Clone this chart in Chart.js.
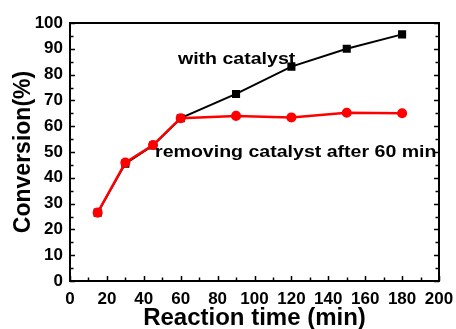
<!DOCTYPE html>
<html>
<head>
<meta charset="utf-8">
<script src="https://cdn.jsdelivr.net/npm/chart.js@4/dist/chart.umd.min.js"></script>
<style>
  html, body { margin: 0; padding: 0; background: #fff; }
  #wrap { width: 456px; height: 329px; }
</style>
</head>
<body>
<div id="wrap"><canvas id="chart" width="456" height="329"></canvas></div>
<script>
// reaction time (min)
const times = [15, 30, 45, 60, 90, 120, 150, 180];
// conversion (%)
const withCatalyst = [26.5, 45.5, 52.5, 63.1, 72.5, 83.1, 90.0, 95.6];
const removedCatalyst = [26.5, 45.9, 52.7, 63.1, 64.0, 63.4, 65.2, 65.0];
const xTicks = [0, 200, 20];
const yTicks = [0, 100, 10];

const FONT = "'Liberation Sans', Arial, sans-serif";

function pts(vals) {
  return times.map((t, i) => ({ x: t, y: vals[i] }));
}

// frame with inward ticks (major + minor)
const framePlugin = {
  id: 'frame',
  beforeDatasetsDraw(chart) {
    const { ctx, chartArea: a, scales } = chart;
    ctx.save();
    ctx.strokeStyle = '#000';
    ctx.lineWidth = 2;
    ctx.strokeRect(a.left, a.top, a.right - a.left, a.bottom - a.top);
    ctx.lineWidth = 1.5;
    ctx.beginPath();
    for (let v = xTicks[0]; v <= xTicks[1]; v += xTicks[2] / 2) {
      const x = Math.round(scales.x.getPixelForValue(v)) + 0.5;
      const len = (v % xTicks[2] === 0) ? 5 : 3.5;
      ctx.moveTo(x, a.bottom); ctx.lineTo(x, a.bottom - len);
    }
    for (let v = yTicks[0]; v <= yTicks[1]; v += yTicks[2] / 2) {
      const y = Math.round(scales.y.getPixelForValue(v)) + 0.5;
      const len = (v % yTicks[2] === 0) ? 5 : 3.5;
      ctx.moveTo(a.left, y); ctx.lineTo(a.left + len, y);
      ctx.moveTo(a.right, y); ctx.lineTo(a.right - len, y);
    }
    ctx.stroke();
    ctx.restore();
  }
};

// text notes in the plot
const notesPlugin = {
  id: 'notes',
  afterDatasetsDraw(chart, args, opts) {
    const { ctx, scales } = chart;
    ctx.save();
    ctx.fillStyle = '#000';
    ctx.font = 'bold 17px ' + FONT;
    ctx.textBaseline = 'alphabetic';
    opts.items.forEach(n => {
      const x = scales.x.getPixelForValue(n.x);
      const y = scales.y.getPixelForValue(n.y);
      ctx.save();
      ctx.translate(x, y);
      ctx.scale(1.15, 1);
      ctx.fillText(n.text, 0, 0);
      ctx.restore();
    });
    ctx.restore();
  }
};

new Chart(document.getElementById('chart'), {
  type: 'line',
  data: {
    datasets: [
      {
        label: 'with catalyst',
        data: pts(withCatalyst),
        borderColor: '#000',
        backgroundColor: '#000',
        borderWidth: 2,
        pointStyle: 'rect',
        pointRadius: 4.3,
        tension: 0,
        order: 2
      },
      {
        label: 'removing catalyst after 60 min',
        data: pts(removedCatalyst),
        borderColor: '#ff0000',
        backgroundColor: '#ff0000',
        borderWidth: 2.5,
        pointStyle: 'circle',
        pointRadius: 3.8,
        tension: 0,
        order: 1
      }
    ]
  },
  options: {
    responsive: false,
    animation: false,
    layout: { padding: { top: 23, right: 17, left: 0, bottom: 0 } },
    plugins: {
      legend: { display: false },
      tooltip: { enabled: false },
      notes: {
        items: [
          { text: 'with catalyst', x: 58.5, y: 84.0 },
          { text: 'removing catalyst after 60 min', x: 46.1, y: 48.1 }
        ]
      }
    },
    scales: {
      x: {
        type: 'linear',
        min: xTicks[0], max: xTicks[1],
        grid: { display: false, drawTicks: false },
        border: { display: false },
        ticks: { stepSize: xTicks[2], color: '#000', padding: 8,
          maxRotation: 0, font: { family: FONT, size: 17, weight: 'bold' } },
        title: { display: true, text: 'Reaction time (min)', color: '#000',
          padding: { top: 0, bottom: -4 },
          font: { family: FONT, size: 24, weight: 'bold' } },
        afterFit(s) { s.height = 48; s.paddingLeft = 0; s.paddingRight = 0; }
      },
      y: {
        min: yTicks[0], max: yTicks[1],
        grid: { display: false, drawTicks: false },
        border: { display: false },
        ticks: { stepSize: yTicks[2], color: '#000', padding: 7,
          font: { family: FONT, size: 17, weight: 'bold' } },
        title: { display: true, text: 'Conversion(%)', color: '#000',
          padding: { top: 10, bottom: 0 },
          font: { family: FONT, size: 23, weight: 'bold' } },
        afterFit(s) { s.width = 70; s.paddingTop = 0; s.paddingBottom = 0; }
      }
    }
  },
  plugins: [framePlugin, notesPlugin]
});
</script>
</body>
</html>
